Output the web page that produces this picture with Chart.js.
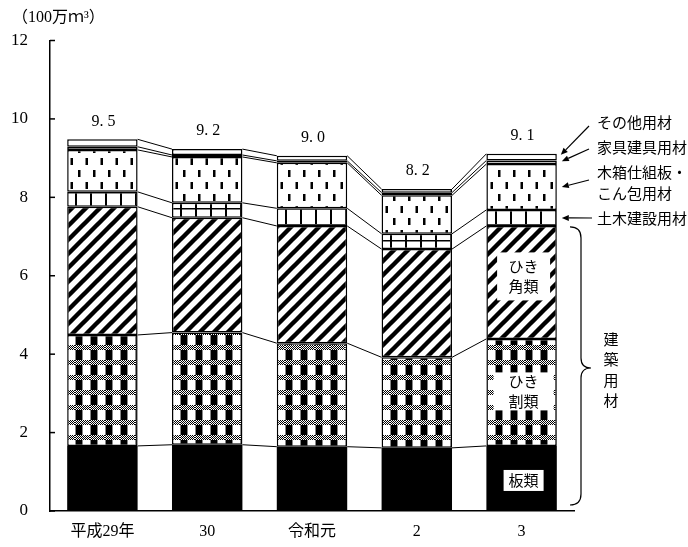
<!DOCTYPE html>
<html>
<head>
<meta charset="utf-8">
<script src="https://cdn.jsdelivr.net/npm/chart.js@4/dist/chart.umd.min.js"></script>
<style>
  html, body { margin: 0; padding: 0; background: #fff; }
  canvas { display: block; }
</style>
</head>
<body>
<canvas id="c" width="688" height="547"></canvas>
<script>
// ---- data ----
const categories = ['平成29年', '30', '令和元', '2', '3'];
const itaRui      = [1.66, 1.69, 1.64, 1.61, 1.66]; // 板類
const hikiwariRui = [2.83, 2.86, 2.64, 2.31, 2.73]; // ひき割類
const hikikakuRui = [3.27, 2.93, 2.99, 2.76, 2.88]; // ひき角類
const dobokuYozai = [0.38, 0.38, 0.45, 0.39, 0.41]; // 土木建設用材
const kibakoYozai = [1.07, 1.17, 1.16, 0.98, 1.17]; // 木箱仕組板・こん包用材
const kaguYozai   = [0.08, 0.05, 0.05, 0.07, 0.09]; // 家具建具用材
const sonotaYozai = [0.19, 0.15, 0.13, 0.09, 0.17]; // その他用材
const totalLabels = ['9.5', '9.2', '9.0', '8.2', '9.1'];
const yTicks = { min: 0, max: 12, step: 2 };
const unitLabel = '（100万ｍ³）';
const seriesNames = ['板類', 'ひき割類', 'ひき角類', '土木建設用材', '木箱仕組板・こん包用材', '家具建具用材', 'その他用材'];

const SERIF = '"Liberation Serif", "Noto Sans CJK JP", serif';
const JP = '"Noto Sans CJK JP", sans-serif';

// ---- patterns ----
function makeTile(w, h, draw) {
  const c = document.createElement('canvas');
  c.width = w; c.height = h;
  const g = c.getContext('2d');
  g.fillStyle = '#fff'; g.fillRect(0, 0, w, h);
  draw(g, w, h);
  return document.getElementById('c').getContext('2d').createPattern(c, 'repeat');
}
const patWari = makeTile(15, 15, (g) => {
  g.fillStyle = '#000';
  for (let y = 0; y < 5; y++) for (let x = 0; x < 15; x++) if ((x + y) % 2 === 0) g.fillRect(x, y, 1, 1);
  g.fillRect(1, 5, 6, 10);
  g.fillStyle = '#888';
  g.fillRect(0, 5, 1, 10);
  g.fillRect(7, 5, 1, 10);
});
const patKaku = makeTile(14, 14, (g) => {
  g.strokeStyle = '#000'; g.lineWidth = 4.4;
  g.beginPath();
  g.moveTo(-2, 16); g.lineTo(16, -2);
  g.moveTo(-9, 9); g.lineTo(9, -9);
  g.moveTo(5, 23); g.lineTo(23, 5);
  g.stroke();
});
const patDoboku = makeTile(15, 16, (g) => {
  g.fillStyle = '#000';
  g.fillRect(0, 0, 2, 16);
  g.fillRect(0, 0, 15, 1.5);
});
const patKibako = makeTile(15, 24, (g) => {
  g.fillStyle = '#000';
  g.fillRect(3, 2, 2.5, 7);
  g.fillRect(10.5, 14, 2.5, 7);
});

const values = [itaRui, hikiwariRui, hikikakuRui, dobokuYozai, kibakoYozai, kaguYozai, sonotaYozai];
const fills = ['#000', patWari, patKaku, patDoboku, patKibako, '#fff', '#fff'];

const datasets = values.map((v, i) => ({
  label: seriesNames[i],
  data: v,
  backgroundColor: fills[i],
  borderColor: '#000',
  borderWidth: i === 0 ? 0 : 1.5,
  borderSkipped: false,
  barPercentage: 0.672,
  categoryPercentage: 1.0
}));

// ---- custom drawing plugin ----
const decor = {
  id: 'decor',
  afterDatasetsDraw(chart) {
    const ctx = chart.ctx;
    const ys = chart.scales.y;
    const n = categories.length;
    const cum = [];
    for (let i = 0; i < n; i++) {
      let s = 0; cum.push(values.map(v => (s += v[i])));
    }
    const metas = values.map((_, d) => chart.getDatasetMeta(d));
    ctx.save();
    // connecting lines
    ctx.strokeStyle = '#000'; ctx.lineWidth = 1;
    for (let d = 0; d < values.length; d++) {
      for (let i = 0; i < n - 1; i++) {
        const a = metas[d].data[i], b = metas[d].data[i + 1];
        ctx.beginPath();
        ctx.moveTo(a.x + a.width / 2, ys.getPixelForValue(cum[i][d]));
        ctx.lineTo(b.x - b.width / 2, ys.getPixelForValue(cum[i + 1][d]));
        ctx.stroke();
      }
    }
    // totals
    ctx.fillStyle = '#000';
    ctx.font = '16px ' + SERIF;
    ctx.textAlign = 'center'; ctx.textBaseline = 'middle';
    for (let i = 0; i < n; i++) {
      const el = metas[0].data[i];
      ctx.fillText(totalLabels[i].replace('.', '. '), el.x + 1, ys.getPixelForValue(cum[i][6]) - 18);
    }
    // inside labels on last bar
    const last = n - 1;
    const cx = metas[0].data[last].x;
    const segMid = (d) => (ys.getPixelForValue(cum[last][d]) + ys.getPixelForValue(d === 0 ? 0 : cum[last][d - 1])) / 2;
    function box(lines, w, h, cy) {
      ctx.fillStyle = '#fff';
      ctx.fillRect(cx - w / 2 + 2, cy - h / 2, w, h);
      ctx.fillStyle = '#000';
      ctx.font = '15px ' + JP;
      ctx.textAlign = 'center'; ctx.textBaseline = 'middle';
      lines.forEach((t, k) => ctx.fillText(t, cx + 2, cy + (k - (lines.length - 1) / 2) * 20));
    }
    box(['ひき', '角類'], 53, 48, segMid(2) - 6);
    box(['ひき', '割類'], 60, 38, segMid(1) - 1);
    box(['板類'], 40, 21, segMid(0) + 2);

    // right-side labels and arrows
    const rx = metas[0].data[last].x + metas[0].data[last].width / 2;
    ctx.font = '15px ' + JP;
    ctx.textAlign = 'left'; ctx.textBaseline = 'middle';
    ctx.fillStyle = '#000';
    ctx.fillText('その他用材', 597, 122);
    ctx.fillText('家具建具用材', 597, 147);
    ctx.fillText('木箱仕組板・', 597, 172);
    ctx.fillText('こん包用材', 597, 193);
    ctx.fillText('土木建設用材', 597, 218);
    function arrow(x1, y1, x2, y2) {
      const ang = Math.atan2(y2 - y1, x2 - x1);
      const L = 7, W = 3;
      ctx.strokeStyle = '#000'; ctx.lineWidth = 1.2;
      ctx.beginPath(); ctx.moveTo(x1, y1);
      ctx.lineTo(x2 - L * Math.cos(ang), y2 - L * Math.sin(ang)); ctx.stroke();
      ctx.beginPath();
      ctx.moveTo(x2, y2);
      ctx.lineTo(x2 - L * Math.cos(ang) + W * Math.sin(ang), y2 - L * Math.sin(ang) - W * Math.cos(ang));
      ctx.lineTo(x2 - L * Math.cos(ang) - W * Math.sin(ang), y2 - L * Math.sin(ang) + W * Math.cos(ang));
      ctx.closePath(); ctx.fill();
    }
    arrow(589, 126, rx + 4, ys.getPixelForValue(cum[last][6]) + 1);
    arrow(589, 149, rx + 5, segMid(5) - 1);
    arrow(589, 180, rx + 5, segMid(4));
    arrow(592, 218, rx + 5, segMid(3));

    // brace for 建築用材
    const top = ys.getPixelForValue(cum[last][2]) + 1;
    const bot = ys.getPixelForValue(0) - 6;
    const mid = (top + bot) / 2 + 2;
    const bx = 581, lx = 570, tx = 591;
    ctx.strokeStyle = '#000'; ctx.lineWidth = 1.2;
    ctx.beginPath();
    ctx.moveTo(lx, top);
    ctx.quadraticCurveTo(bx, top, bx, top + 11);
    ctx.lineTo(bx, mid - 10);
    ctx.quadraticCurveTo(bx, mid, tx, mid);
    ctx.quadraticCurveTo(bx, mid, bx, mid + 10);
    ctx.lineTo(bx, bot - 11);
    ctx.quadraticCurveTo(bx, bot, lx, bot);
    ctx.stroke();
    ctx.font = '15px ' + JP;
    ctx.textAlign = 'center'; ctx.textBaseline = 'middle';
    ['建', '築', '用', '材'].forEach((ch, k) => ctx.fillText(ch, 611, 339 + k * 20.5));

    ctx.restore();
  },
  afterDraw(chart) {
    const ctx = chart.ctx;
    const ys = chart.scales.y;
    const left = chart.chartArea.left;
    ctx.save();
    ctx.strokeStyle = '#000'; ctx.lineWidth = 1.5;
    for (let v = yTicks.min; v <= yTicks.max; v += yTicks.step) {
      const y = ys.getPixelForValue(v);
      ctx.beginPath(); ctx.moveTo(left, y); ctx.lineTo(left + 5, y); ctx.stroke();
    }
    ctx.fillStyle = '#000';
    ctx.font = '16px ' + SERIF;
    ctx.textAlign = 'left'; ctx.textBaseline = 'middle';
    ctx.fillText(unitLabel, 12, 18);
    ctx.restore();
  }
};

new Chart(document.getElementById('c'), {
  type: 'bar',
  data: { labels: categories, datasets },
  options: {
    responsive: false,
    animation: false,
    layout: { padding: { left: 0, right: 114, top: 40.5, bottom: 0 } },
    plugins: { legend: { display: false }, tooltip: { enabled: false }, title: { display: false } },
    scales: {
      x: {
        stacked: true,
        grid: { display: false, drawTicks: false },
        border: { display: true, color: '#000', width: 1.5 },
        ticks: { color: '#000', font: { family: SERIF, size: 16 }, padding: 11, maxRotation: 0 },
        afterFit: (s) => { s.height = 36; }
      },
      y: {
        stacked: true,
        min: yTicks.min, max: yTicks.max,
        grid: { display: false, drawTicks: false },
        border: { display: true, color: '#000', width: 1.5 },
        ticks: { stepSize: yTicks.step, color: '#000', font: { family: SERIF, size: 17 }, padding: 22 },
        afterFit: (s) => { s.width = 50; }
      }
    }
  },
  plugins: [decor]
});
</script>
</body>
</html>
